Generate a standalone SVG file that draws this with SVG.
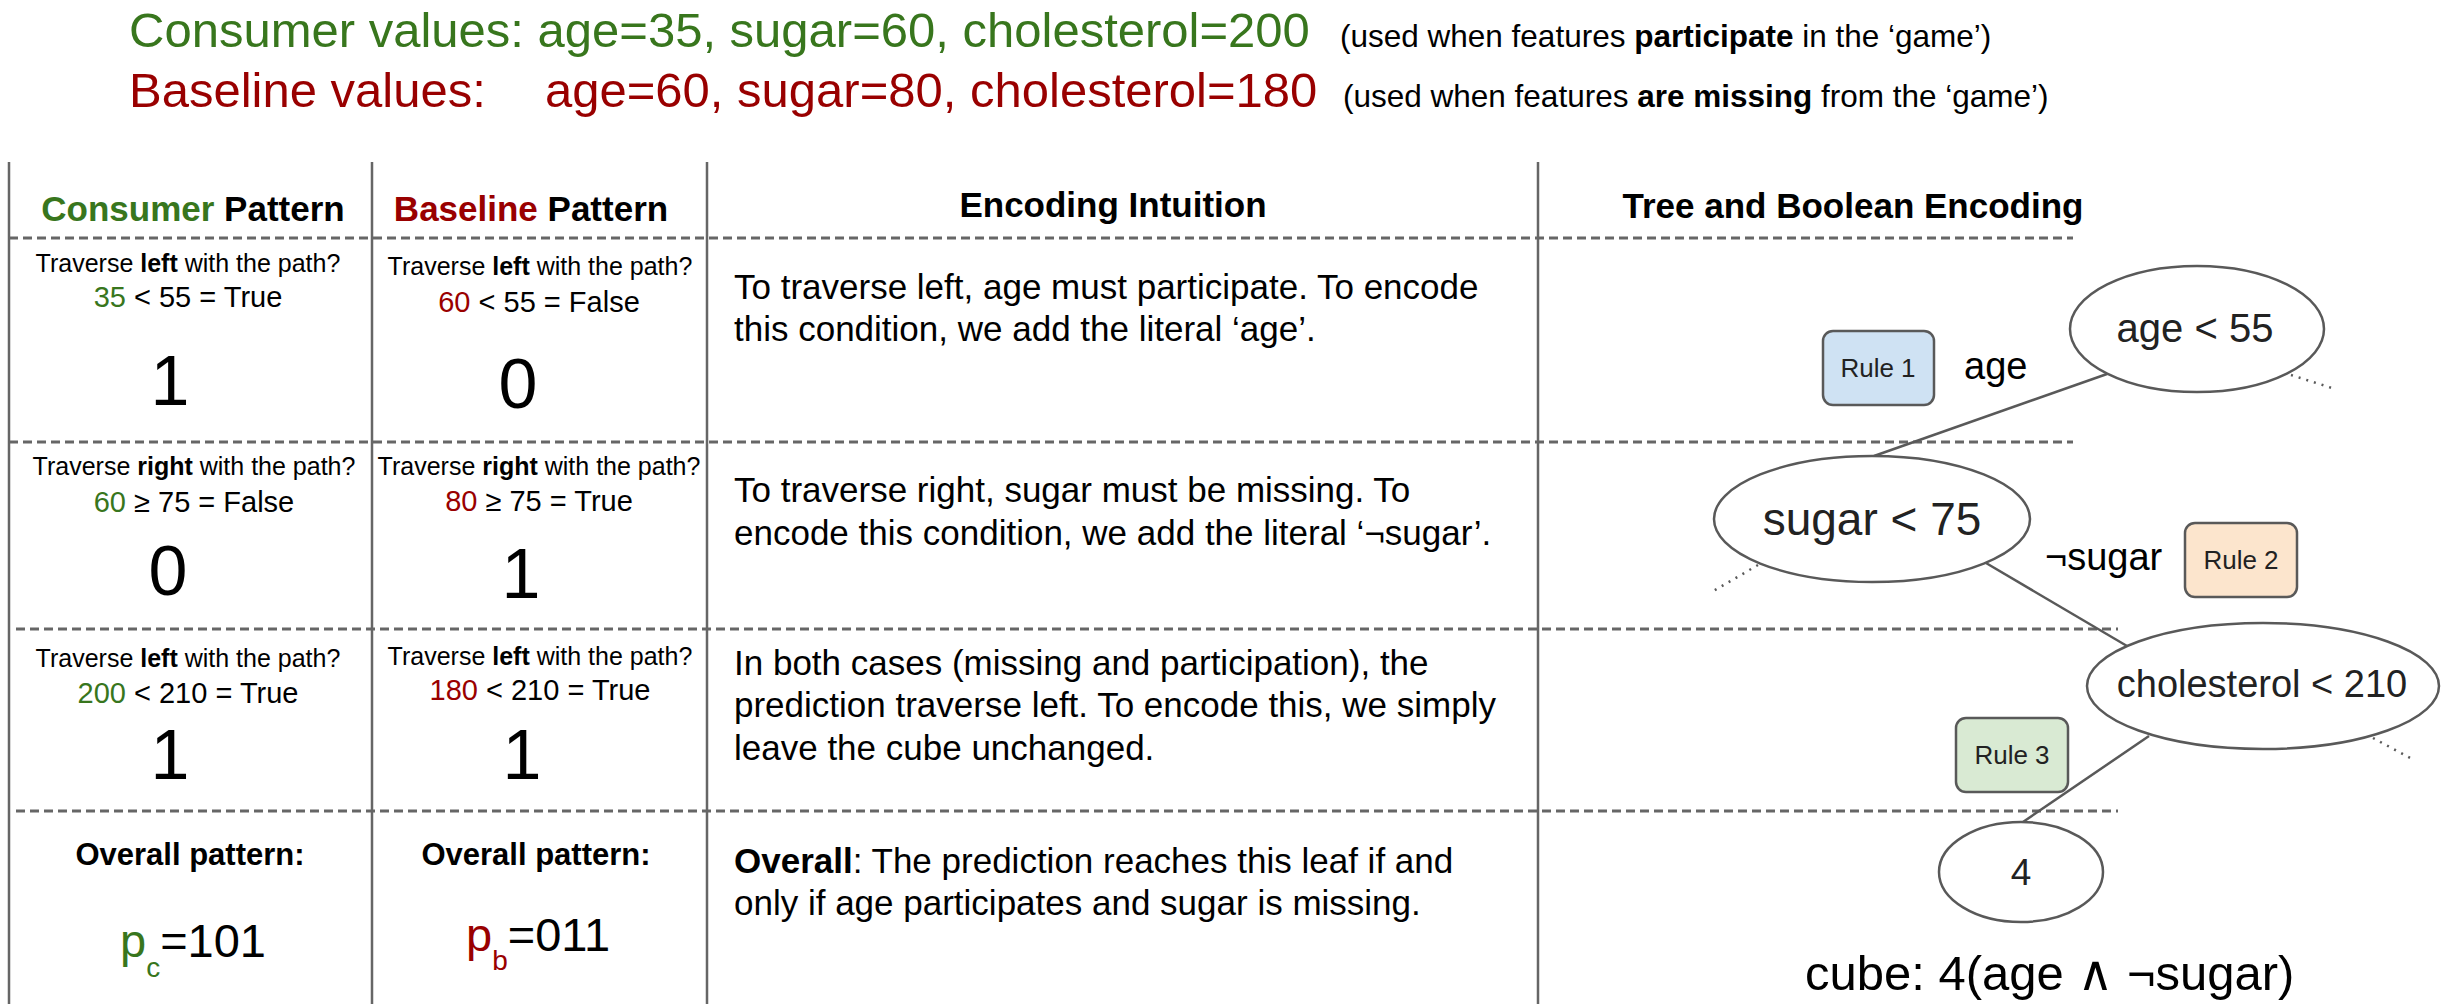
<svg xmlns="http://www.w3.org/2000/svg" width="2448" height="1004" viewBox="0 0 2448 1004">
<style>
text{font-family:"Liberation Sans",Arial,"DejaVu Sans",sans-serif;fill:#000}
.g{fill:#38761d}
.r{fill:#990000}
.b{font-weight:bold}
.hdr{font-size:35px;font-weight:bold;text-anchor:middle}
.q{font-size:25px;text-anchor:middle}
.v{font-size:29px;text-anchor:middle}
.big{font-size:70px;text-anchor:middle}
.ov{font-size:31px;font-weight:bold;text-anchor:middle}
.body{font-size:35px}
.vl{stroke:#666;stroke-width:2.5;fill:none}
.dl{stroke:#666;stroke-width:3;stroke-dasharray:9 5;fill:none}
.node{fill:#fff;stroke:#595959;stroke-width:2.5}
.edge{stroke:#595959;stroke-width:2.5;fill:none}
.dot{stroke:#595959;stroke-width:2.5;stroke-dasharray:2 6;fill:none}
.rule{stroke:#595959;stroke-width:2.5}
.rt{font-size:26px;text-anchor:middle;fill:#222}
.nt{fill:#222;text-anchor:middle}
.lbl{font-size:38px}
</style>
<rect width="2448" height="1004" fill="#fff"/>
<g id="title">
<text x="129" y="47" font-size="49" class="g">Consumer values: age=35, sugar=60, cholesterol=200</text>
<text x="1340" y="47" font-size="31.5">(used when features <tspan class="b">participate</tspan> in the ‘game’)</text>
<text x="129" y="107" font-size="49" class="r">Baseline values:<tspan x="545">age=60, sugar=80, cholesterol=180</tspan></text>
<text x="1343" y="107" font-size="31.5">(used when features <tspan class="b">are missing</tspan> from the ‘game’)</text>
</g>
<g id="grid">
<line class="vl" x1="9" y1="162" x2="9" y2="1004"/>
<line class="vl" x1="372" y1="162" x2="372" y2="1004"/>
<line class="vl" x1="707" y1="162" x2="707" y2="1004"/>
<line class="vl" x1="1538" y1="162" x2="1538" y2="1004"/>
<line class="dl" x1="9" y1="238" x2="2073" y2="238"/>
<line class="dl" x1="9" y1="442" x2="2073" y2="442"/>
<line class="dl" x1="16" y1="629" x2="2118" y2="629"/>
<line class="dl" x1="16" y1="811" x2="2118" y2="811"/>
</g>
<g id="headers">
<text class="hdr" x="193" y="221"><tspan class="g">Consumer</tspan> Pattern</text>
<text class="hdr" x="531" y="221"><tspan class="r">Baseline</tspan> Pattern</text>
<text class="hdr" x="1113" y="217">Encoding Intuition</text>
<text class="hdr" x="1853" y="218">Tree and Boolean Encoding</text>
</g>
<g id="consumer-column">
<text class="q" x="188" y="272">Traverse <tspan class="b">left</tspan> with the path?</text>
<text class="v" x="188" y="307"><tspan class="g">35</tspan> &lt; 55 = True</text>
<text class="big" x="170" y="405">1</text>
<text class="q" x="194" y="475">Traverse <tspan class="b">right</tspan> with the path?</text>
<text class="v" x="194" y="512"><tspan class="g">60</tspan> ≥ 75 = False</text>
<text class="big" x="168" y="595">0</text>
<text class="q" x="188" y="667">Traverse <tspan class="b">left</tspan> with the path?</text>
<text class="v" x="188" y="703"><tspan class="g">200</tspan> &lt; 210 = True</text>
<text class="big" x="170" y="779">1</text>
<text class="ov" x="190" y="865">Overall pattern:</text>
<text x="120" y="957" font-size="47"><tspan class="g">p</tspan><tspan class="g" font-size="28" dy="20">c</tspan><tspan dy="-20">=101</tspan></text>
</g>
<g id="baseline-column">
<text class="q" x="540" y="275">Traverse <tspan class="b">left</tspan> with the path?</text>
<text class="v" x="539" y="312"><tspan class="r">60</tspan> &lt; 55 = False</text>
<text class="big" x="518" y="408">0</text>
<text class="q" x="539" y="475">Traverse <tspan class="b">right</tspan> with the path?</text>
<text class="v" x="539" y="511"><tspan class="r">80</tspan> ≥ 75 = True</text>
<text class="big" x="521" y="598">1</text>
<text class="q" x="540" y="665">Traverse <tspan class="b">left</tspan> with the path?</text>
<text class="v" x="540" y="700"><tspan class="r">180</tspan> &lt; 210 = True</text>
<text class="big" x="522" y="779">1</text>
<text class="ov" x="536" y="865">Overall pattern:</text>
<text x="466" y="951" font-size="47"><tspan class="r">p</tspan><tspan class="r" font-size="28" dy="19">b</tspan><tspan dy="-19">=011</tspan></text>
</g>
<g id="intuition-column">
<text class="body" x="734" y="299">To traverse left, age must participate. To encode</text>
<text class="body" x="734" y="341">this condition, we add the literal ‘age’.</text>
<text class="body" x="734" y="502">To traverse right, sugar must be missing. To</text>
<text class="body" x="734" y="545">encode this condition, we add the literal ‘¬sugar’.</text>
<text class="body" x="734" y="675">In both cases (missing and participation), the</text>
<text class="body" x="734" y="717">prediction traverse left. To encode this, we simply</text>
<text class="body" x="734" y="760">leave the cube unchanged.</text>
<text class="body" x="734" y="873"><tspan class="b">Overall</tspan>: The prediction reaches this leaf if and</text>
<text class="body" x="734" y="915">only if age participates and sugar is missing.</text>
</g>
<g id="connectors">
<line class="edge" x1="2107" y1="374" x2="1874" y2="456"/>
<line class="edge" x1="1986" y1="563" x2="2127" y2="646"/>
<line class="edge" x1="2149" y1="736" x2="2023" y2="822"/>
<line class="dot" x1="2291" y1="375" x2="2332" y2="388"/>
<line class="dot" x1="1758" y1="565" x2="1710" y2="593"/>
<line class="dot" x1="2373" y1="738" x2="2414" y2="760"/>
<text class="lbl" x="1964" y="379">age</text>
<text class="lbl" x="2045" y="570">¬sugar</text>
</g>
<g id="node-age">
<ellipse class="node" cx="2197" cy="329" rx="127" ry="63"/>
<text class="nt" x="2195" y="342" font-size="40">age &lt; 55</text>
</g>
<g id="node-sugar">
<ellipse class="node" cx="1872" cy="519" rx="158" ry="63"/>
<text class="nt" x="1872" y="535" font-size="46">sugar &lt; 75</text>
</g>
<g id="node-cholesterol">
<ellipse class="node" cx="2263" cy="686" rx="176" ry="63"/>
<text class="nt" x="2262" y="697" font-size="38">cholesterol &lt; 210</text>
</g>
<g id="node-leaf">
<ellipse class="node" cx="2021" cy="872" rx="82" ry="50"/>
<text class="nt" x="2021" y="885" font-size="37">4</text>
</g>
<g id="rule-1">
<rect class="rule" x="1823" y="331" width="111" height="74" rx="10" fill="#cfe2f3"/>
<text class="rt" x="1878" y="377">Rule 1</text>
</g>
<g id="rule-2">
<rect class="rule" x="2185" y="523" width="112" height="74" rx="10" fill="#fce5cd"/>
<text class="rt" x="2241" y="569">Rule 2</text>
</g>
<g id="rule-3">
<rect class="rule" x="1956" y="718" width="112" height="74" rx="10" fill="#d9ead3"/>
<text class="rt" x="2012" y="764">Rule 3</text>
</g>
<g id="cube">
<text x="1805" y="990" font-size="49">cube: 4(age ∧ ¬sugar)</text>
</g>
</svg>
